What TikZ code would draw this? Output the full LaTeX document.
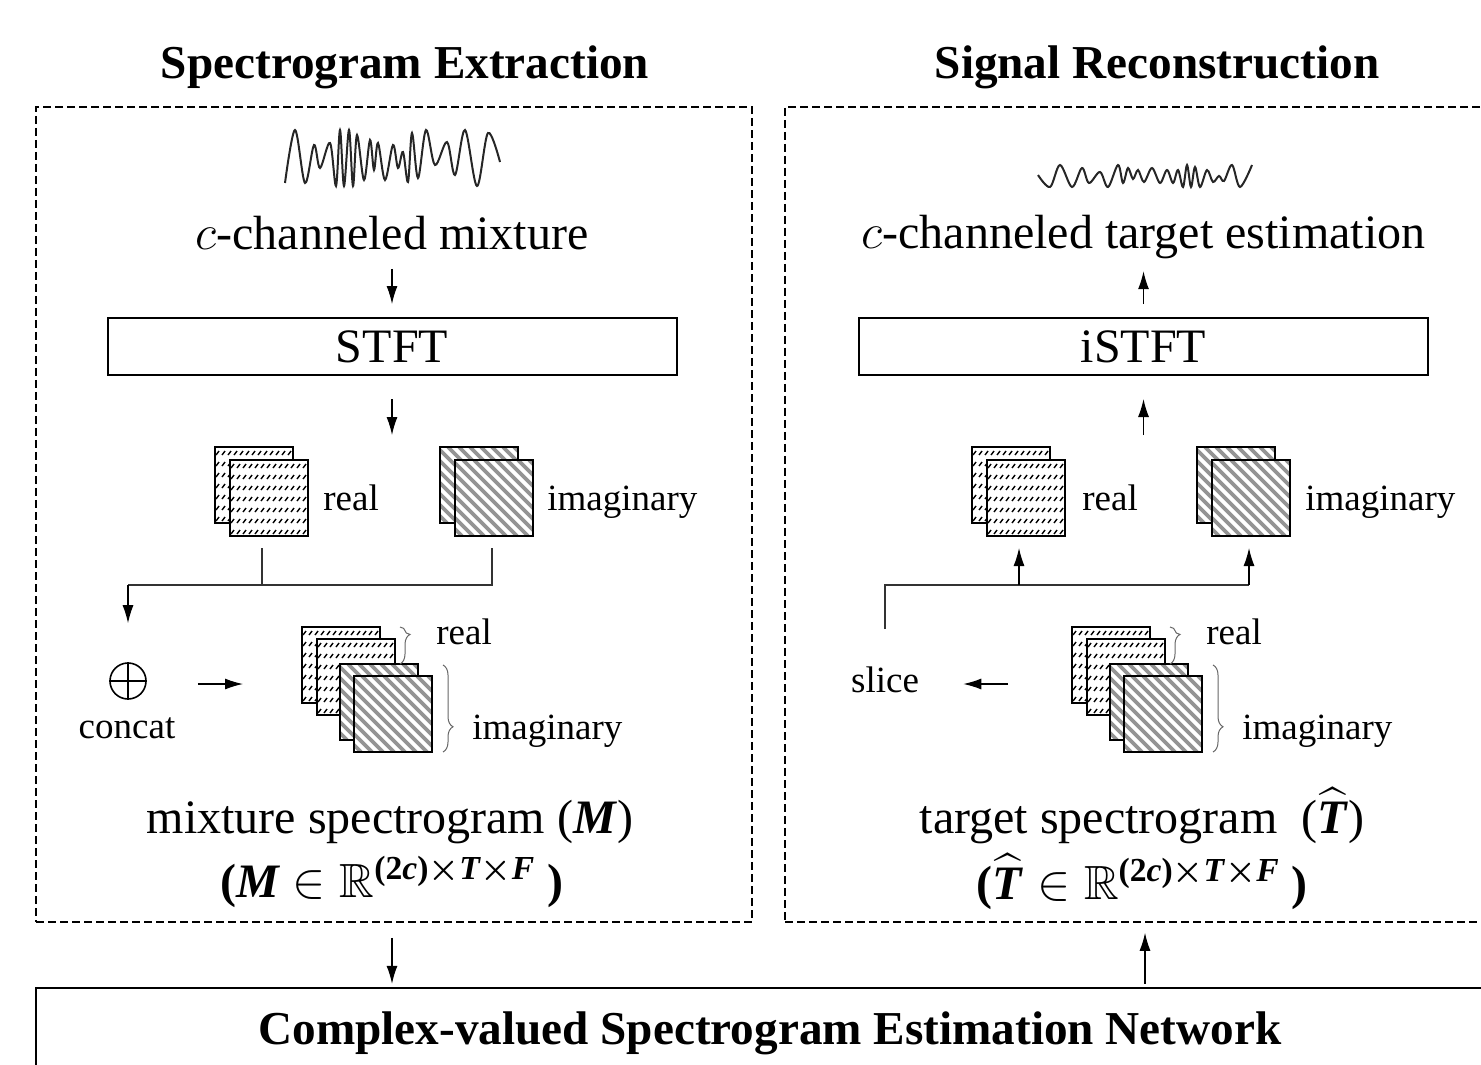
\documentclass[tikz,border=0pt]{standalone}
\usepackage{amsmath,amssymb}
\usepackage{fontspec}
\setmainfont{Liberation Serif}
\usetikzlibrary{arrows.meta,decorations.pathreplacing}

\newcommand{\bfit}[1]{\textbf{\textit{#1}}}
\newcommand{\That}{\smash{\widehat{\text{\bfit{T}}}}}

\tikzset{
  box/.style={draw, line width=1pt, inner sep=0pt},
  dashbox/.style={draw, dash pattern=on 4pt off 2pt, line width=0.8pt, inner sep=0pt},
  arr/.style={-{Latex[length=9pt,width=5.5pt]}, line width=0.6pt},
  conn/.style={line width=0.6pt, black!80},
  txt/.style={font=\fontsize{24}{28}\selectfont, inner sep=0pt},
  lbl/.style={font=\fontsize{18.5}{22}\selectfont, inner sep=0pt},
  head/.style={font=\fontsize{23.6}{28}\selectfont\bfseries, inner sep=0pt},
  wave/.style={line width=1pt, black!85},
  brc/.style={decorate, decoration={brace, amplitude=5pt, aspect=#1}, line width=0.5pt, black!60},
  % one real-part sheet, 78 x 76
  realsheet/.pic={
    \fill[white] (0,0) rectangle (78,76);
    \begin{scope}
      \clip (0,0) rectangle (78,76);
      \foreach \row in {6,17,...,72}
        \foreach \col in {1,7,...,79}
          \draw[line width=0.7pt] (\col,\row+2) -- (\col+3,\row-2);
    \end{scope}
    \draw[line width=1.2pt] (0,0) rectangle (78,76);
    \coordinate (-b) at (32,88);
  },
  % one imaginary-part sheet
  imagsheet/.pic={
    \fill[white] (0,0) rectangle (78,76);
    \begin{scope}
      \clip (0,0) rectangle (78,76);
      \foreach \k in {-80,-69,...,80}
        \draw[black!42, line width=1.8pt] (\k,0) -- (\k+76,76);
    \end{scope}
    \draw[line width=1.2pt] (0,0) rectangle (78,76);
    \coordinate (-b) at (37,88);
  },
  % stacked real and imaginary channels
  stack/.pic={
    \pic at (0,0) {realsheet};
    \pic at (15,12) {realsheet};
    \pic at (38,37) {imagsheet};
    \pic at (52,49) {imagsheet};
    \draw[brc=0.2] (98,0) -- (98,37);
    \draw[brc=0.71] (141,38) -- (141,125);
    \node[lbl, anchor=west] at (134,5) {real};
    \node[lbl, anchor=west] at (170,104) {imaginary};
  }
}

\begin{document}
\begin{tikzpicture}[x=0.5pt, y=-0.5pt]
\useasboundingbox (0,0) rectangle (1481,1064);

% headings and frames
\node[head] (lhead) at (405,67) {Spectrogram Extraction};
\node[head] (rhead) at (1157,67) {Signal Reconstruction};
\node[dashbox, minimum width=358pt, minimum height=407.5pt] (lbox) at (394,514.5) {};
\node[dashbox, minimum width=360pt, minimum height=407.5pt] (rbox) at (1145,514.5) {};

% ---- spectrogram extraction ----
\draw[wave] plot[smooth, tension=0.55] coordinates {(285,183) (295,130) (305,183) (314,145) (320,168) (330,143) (336,186) (340,130) (344,186) (349,130) (353,186) (357,135) (364,180) (370,140) (374,170) (378,143) (385,180) (393,145) (398,168) (403,152) (408,182) (412,133) (418,178) (426,130) (435,165) (447,142) (455,175) (465,130) (477,186) (488,133) (500,162)};
\node[txt] (mix) at (392,233) {$c$-channeled mixture};
\node[box, txt, minimum width=284.5pt, minimum height=28.5pt] (stft) at (392,346.5) {STFT};
\coordinate (lspec) at (392,435);
\draw[arr, shorten <=9.3pt, shorten >=6.5pt] (mix) -- (stft);
\draw[arr, shorten <=11.5pt] (stft) -- (lspec);

\pic at (215,447) {realsheet};
\pic (lrf) at (230,460) {realsheet};
\pic at (440,447) {imagsheet};
\pic (lif) at (455,460) {imagsheet};
\node[lbl, anchor=west] (lre) at (323,498) {real};
\node[lbl, anchor=west] (lim) at (547,502) {imaginary};

\coordinate (ljoin) at (128,585);
\node[circle, draw, line width=0.8pt, minimum size=18pt, inner sep=0pt] (plus) at (128,681) {};
\draw[line width=0.8pt] (plus.north) -- (plus.south) (plus.west) -- (plus.east);
\node[lbl] (concat) at (127,728) {concat};
\draw[conn] (lrf-b) -- (lrf-b |- ljoin);
\draw[conn] (lif-b) -- (lif-b |- ljoin) -- (ljoin);
\draw[arr, shorten >=19.5pt] (ljoin) -- (plus);

\coordinate (lin) at (243,684);
\draw[arr, shorten <=25.5pt] (plus.east |- lin) -- (lin);
\pic (lst) at (302,627) {stack};

\node[txt] (lname) at (390,822) {mixture spectrogram (\bfit{M})};
\node[txt] (lshape) at (392,882) {\textbf{(\textit{M}} $\in\mathbb{R}^{\text{\bfseries(2\textit{c})}\boldsymbol{\times}\text{\bfit{T}}\boldsymbol{\times}\text{\bfit{F}}}$ \textbf{)}};

% ---- signal reconstruction ----
\draw[wave] plot[smooth, tension=0.55] coordinates {(1038,175) (1050,187) (1060,165) (1072,187) (1082,168) (1089,183) (1100,172) (1108,187) (1118,165) (1123,183) (1128,168) (1133,179) (1138,170) (1144,182) (1152,168) (1160,183) (1167,170) (1173,183) (1178,170) (1183,187) (1187,165) (1191,187) (1195,167) (1200,187) (1207,170) (1213,182) (1219,176) (1224,181) (1232,165) (1240,187) (1252,165)};
\node[txt] (tgt) at (1143.5,237) {$c$-channeled target estimation};
\node[box, txt, minimum width=284.5pt, minimum height=28.5pt] (istft) at (1143.5,346.5) {iSTFT};
\coordinate (rspec) at (1143.5,435);
\draw[arr, shorten <=6.5pt, shorten >=6pt] (istft) -- (tgt);
\draw[arr, shorten >=11.5pt] (rspec) -- (istft);

\pic at (972,447) {realsheet};
\pic (rrf) at (987,460) {realsheet};
\pic at (1197,447) {imagsheet};
\pic (rif) at (1212,460) {imagsheet};
\node[lbl, anchor=west] (rre) at (1082,498) {real};
\node[lbl, anchor=west] (rim) at (1305,502) {imaginary};

\node[lbl] (slice) at (885,680) {slice};
\coordinate (rjoin) at (885,585);
\draw[conn, shorten <=18.7pt] (slice) -- (rjoin) -- (rjoin -| rif-b);
\draw[arr] (rjoin -| rrf-b) -- (rrf-b);
\draw[arr] (rjoin -| rif-b) -- (rif-b);

\coordinate (rout) at (1008,684);
\draw[arr, shorten >=22pt] (rout) -- (rout -| slice.east);
\pic (rst) at (1072,627) {stack};

\node[txt] (rname) at (1142,822) {target spectrogram \ ($\That$)};
\node[txt] (rshape) at (1142,884) {\textbf{(}$\That\in\mathbb{R}^{\text{\bfseries(2\textit{c})}\boldsymbol{\times}\text{\bfit{T}}\boldsymbol{\times}\text{\bfit{F}}}$ \textbf{)}};

% ---- estimation network ----
\node[draw, line width=1.2pt, minimum width=732pt, minimum height=56pt] (net) at (768,1044) {};
\node[head] (nettxt) at (770,1033) {Complex-valued Spectrogram Estimation Network};
\draw[arr, shorten <=7.5pt, shorten >=1.5pt] (lbox.south -| stft) -- (net.north -| stft);
\draw[arr, shorten <=1.5pt, shorten >=5pt] (net.north -| rbox) -- (rbox.south);
\end{tikzpicture}
\end{document}
